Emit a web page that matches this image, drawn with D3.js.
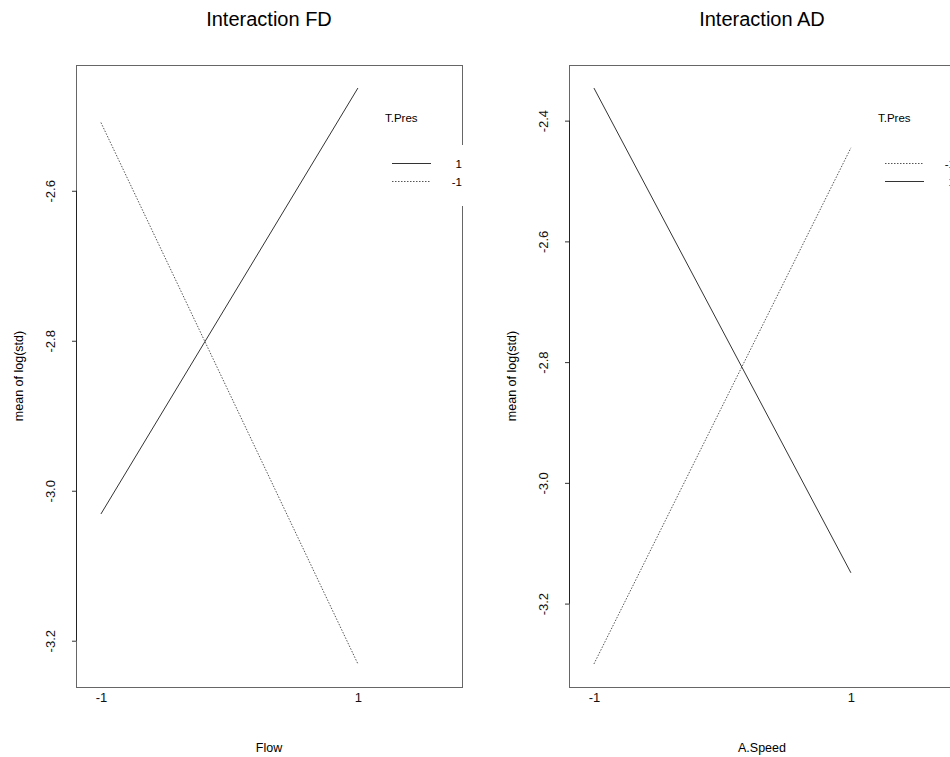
<!DOCTYPE html>
<html lang="en">
<head>
    <meta charset="UTF-8">
    <title>Interaction plots</title>
    <script src="https://d3js.org/d3.v7.min.js"></script>
    <style>
        body {
            margin: 0;
            background: #fff;
            font-family: "Liberation Sans", Arial, sans-serif;
        }
        .box {
            fill: none;
            stroke: #666;
            stroke-width: 1px;
        }
        .trace {
            fill: none;
            stroke: #333;
            stroke-width: 1px;
        }
        .dotted {
            stroke: #555;
            stroke-dasharray: 1.5 1.5;
        }
    </style>
</head>
<body>
    <div id="chart"></div>

    <script>
        // Data
        const flowLevels = ["-1", "1"];
        const aSpeedLevels = ["-1", "1"];

        // Interaction FD: traces by T.Pres
        const fdTraceNames = ["1", "-1"];
        const fdTracePos = [-3.031, -2.463];
        const fdTraceNeg = [-2.509, -3.231];
        const fdTicks = [-3.2, -3.0, -2.8, -2.6];

        // Interaction AD: traces by T.Pres
        const adTraceNames = ["-1", "1"];
        const adTraceNeg = [-3.300, -2.445];
        const adTracePos = [-2.346, -3.149];
        const adTicks = [-3.2, -3.0, -2.8, -2.6, -2.4];

        // Layout
        const W = 950, H = 757;
        const margin = {top: 65, left: 76},
              boxW = 386, boxH = 622,
              panelW = 493;

        const svg = d3.select("#chart")
                      .append("svg")
                      .attr("width", W)
                      .attr("height", H);

        function drawPanel(index, cfg) {
            const g = svg.append("g")
                         .attr("transform", `translate(${index * panelW + margin.left},${margin.top})`);

            // x: factor levels at positions 1..n, room on the right for the legend
            const x = d3.scaleLinear().domain([0.903, 2.405]).range([0, boxW]);

            // y: data range widened by 4% each side
            const all = cfg.traces.flatMap(t => t.values);
            const ext = d3.extent(all);
            const pad = (ext[1] - ext[0]) * 0.04;
            const y = d3.scaleLinear().domain([ext[0] - pad, ext[1] + pad]).range([boxH, 0]);

            const line = d3.line()
                           .x((d, i) => x(i + 1))
                           .y(d => y(d));

            // Traces
            cfg.traces.forEach(t => {
                g.append("path")
                 .datum(t.values)
                 .attr("class", t.dotted ? "trace dotted" : "trace")
                 .attr("d", line);
            });

            // Box
            g.append("rect")
             .attr("class", "box")
             .attr("x", 0.5)
             .attr("y", 0.5)
             .attr("width", boxW)
             .attr("height", boxH);

            // Y axis: line only between the outer ticks
            const yAxis = g.append("g")
                           .call(d3.axisLeft(y)
                                   .tickValues(cfg.ticks)
                                   .tickSize(4)
                                   .tickFormat(d => d.toFixed(1)));
            yAxis.select(".domain").remove();
            yAxis.selectAll("line").attr("stroke", "#333");
            yAxis.append("line")
                 .attr("x1", 0.5).attr("x2", 0.5)
                 .attr("y1", y(d3.min(cfg.ticks)))
                 .attr("y2", y(d3.max(cfg.ticks)))
                 .attr("stroke", "#222");
            yAxis.selectAll("text")
                 .attr("x", 0)
                 .attr("dy", 0)
                 .attr("transform", "translate(-21,0) rotate(-90)")
                 .attr("text-anchor", "middle")
                 .attr("fill", "#111")
                 .style("font-size", "13px")
                 .style("font-family", "Liberation Sans, Arial, sans-serif");

            // X axis: labels only
            const xAxis = g.append("g")
                           .attr("transform", `translate(0,${boxH})`)
                           .call(d3.axisBottom(x)
                                   .tickValues(cfg.levels.map((d, i) => i + 1))
                                   .tickSize(0)
                                   .tickFormat((d, i) => cfg.levels[i]));
            xAxis.select(".domain").remove();
            xAxis.selectAll("text")
                 .attr("y", 15)
                 .attr("dy", 0)
                 .attr("fill", "#111")
                 .style("font-size", "13px")
                 .style("font-family", "Liberation Sans, Arial, sans-serif");

            // Titles
            g.append("text")
             .attr("x", boxW / 2)
             .attr("y", -39)
             .attr("text-anchor", "middle")
             .style("font-size", "20px")
             .text(cfg.title);

            g.append("text")
             .attr("x", boxW / 2)
             .attr("y", boxH + 65)
             .attr("text-anchor", "middle")
             .style("font-size", "12.5px")
             .text(cfg.xLabel);

            g.append("text")
             .attr("transform", `translate(-53,${boxH / 2}) rotate(-90)`)
             .attr("text-anchor", "middle")
             .style("font-size", "12.5px")
             .text("mean of log(std)");

            // Legend
            const leg = g.append("g").attr("transform", "translate(300,0)");
            leg.append("rect")
               .attr("x", 0).attr("y", 80)
               .attr("width", 100).attr("height", 61)
               .attr("fill", "#fff");
            leg.append("text")
               .attr("x", 9)
               .attr("y", 57)
               .style("font-size", "11.5px")
               .text("T.Pres");

            cfg.traces.forEach((t, i) => {
                const ry = 98.5 + i * 18;
                leg.append("line")
                   .attr("class", t.dotted ? "trace dotted" : "trace")
                   .attr("x1", 16).attr("x2", 55)
                   .attr("y1", ry).attr("y2", ry);
                leg.append("text")
                   .attr("x", 86)
                   .attr("y", ry + 4)
                   .attr("text-anchor", "end")
                   .style("font-size", "11.5px")
                   .text(t.name);
            });
        }

        drawPanel(0, {
            title: "Interaction FD",
            xLabel: "Flow",
            levels: flowLevels,
            ticks: fdTicks,
            traces: [
                {name: fdTraceNames[0], values: fdTracePos, dotted: false},
                {name: fdTraceNames[1], values: fdTraceNeg, dotted: true}
            ]
        });

        drawPanel(1, {
            title: "Interaction AD",
            xLabel: "A.Speed",
            levels: aSpeedLevels,
            ticks: adTicks,
            traces: [
                {name: adTraceNames[0], values: adTraceNeg, dotted: true},
                {name: adTraceNames[1], values: adTracePos, dotted: false}
            ]
        });
    </script>
</body>
</html>
